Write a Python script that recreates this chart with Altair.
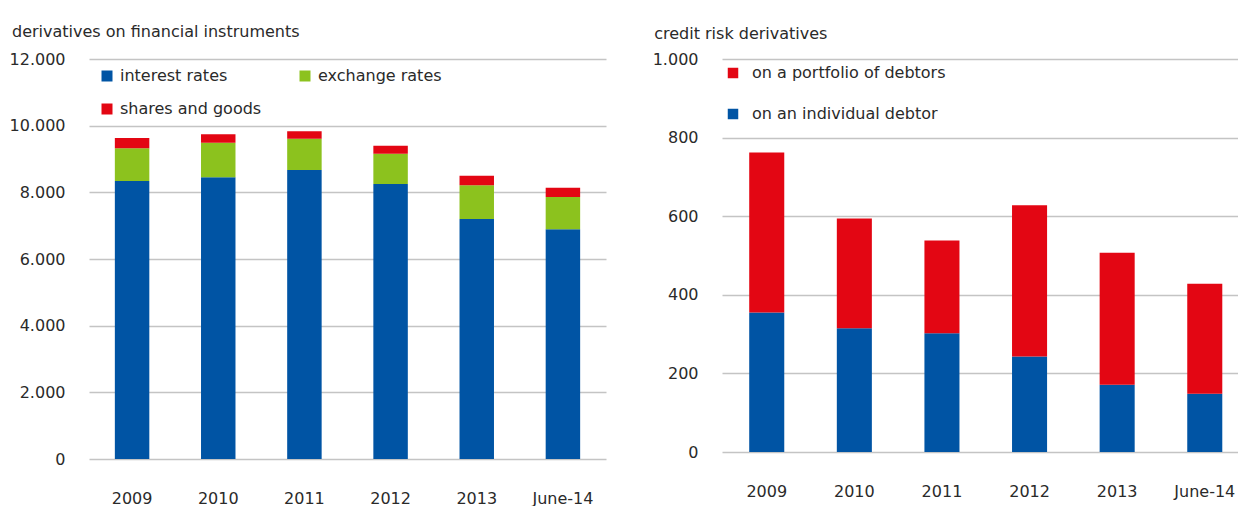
import altair as alt
import pandas as pd

# ---- data ----
years = ["2009", "2010", "2011", "2012", "2013", "June-14"]

left_series = ["interest rates", "exchange rates", "shares and goods"]
left_colors = ["#0054A4", "#8CC21E", "#E30613"]
interest_rates = [8340, 8450, 8670, 8250, 7200, 6890]
exchange_rates = [980, 1040, 940, 910, 1010, 970]
shares_goods = [310, 250, 220, 240, 290, 280]

right_series = ["on a portfolio of debtors", "on an individual debtor"]
right_colors = ["#E30613", "#0054A4"]
individual_debtor = [355, 315, 302, 243, 171, 148]
portfolio_debtors = [407, 279, 236, 385, 336, 280]

left_ticks = [0, 2000, 4000, 6000, 8000, 10000, 12000]
right_ticks = [0, 200, 400, 600, 800, 1000]

# ---- tables ----
rows = []
for i, y in enumerate(years):
    rows.append({"year": y, "series": "interest rates", "value": interest_rates[i], "ord": 0})
    rows.append({"year": y, "series": "exchange rates", "value": exchange_rates[i], "ord": 1})
    rows.append({"year": y, "series": "shares and goods", "value": shares_goods[i], "ord": 2})
df_left = pd.DataFrame(rows)

rows = []
for i, y in enumerate(years):
    rows.append({"year": y, "series": "on an individual debtor", "value": individual_debtor[i], "ord": 0})
    rows.append({"year": y, "series": "on a portfolio of debtors", "value": portfolio_debtors[i], "ord": 1})
df_right = pd.DataFrame(rows)

label_expr = "replace(format(datum.value, ','), ',', '.')"
FONT = "DejaVu Sans"
TXT = "#2a2a2a"

def x_axis():
    return alt.Axis(title=None, labelAngle=0, ticks=False, domain=False,
                    labelPadding=31, labelFontSize=16, labelColor=TXT, grid=False)

def y_axis(vals):
    return alt.Axis(title=None, values=vals, ticks=False, domain=False, grid=True,
                    gridColor="#c4c4c4", gridWidth=1.6, labelPadding=24,
                    labelFontSize=16, labelColor=TXT, labelExpr=label_expr)

left = alt.Chart(df_left).mark_bar().encode(
    x=alt.X("year:N", sort=years,
            scale=alt.Scale(paddingInner=0.6, paddingOuter=0.3), axis=x_axis()),
    y=alt.Y("value:Q", stack="zero",
            scale=alt.Scale(domain=[0, 12000], nice=False), axis=y_axis(left_ticks)),
    color=alt.Color("series:N",
                    scale=alt.Scale(domain=left_series, range=left_colors),
                    legend=alt.Legend(title=None, orient="none", legendX=10, legendY=9,
                                      direction="horizontal",
                                      columns=2, columnPadding=35, rowPadding=17,
                                      symbolType="square", symbolSize=121,
                                      symbolStrokeWidth=0, labelFontSize=16,
                                      labelLimit=400,
                                      labelOffset=5, labelColor=TXT)),
    order=alt.Order("ord:Q", sort="ascending"),
).properties(
    width=517, height=400,
    title=alt.TitleParams("derivatives on financial instruments", anchor="start",
                          dx=3, offset=11, fontSize=16, fontWeight="normal", color=TXT),
)

right = alt.Chart(df_right).mark_bar().encode(
    x=alt.X("year:N", sort=years,
            scale=alt.Scale(paddingInner=0.6, paddingOuter=0.245, align=0.634), axis=x_axis()),
    y=alt.Y("value:Q", stack="zero",
            scale=alt.Scale(domain=[0, 1000], nice=False), axis=y_axis(right_ticks)),
    color=alt.Color("series:N",
                    scale=alt.Scale(domain=right_series, range=right_colors),
                    legend=alt.Legend(title=None, orient="none", legendX=3, legendY=6,
                                      direction="vertical", rowPadding=25,
                                      symbolType="square", symbolSize=110,
                                      symbolStrokeWidth=0, labelFontSize=16,
                                      labelLimit=400,
                                      labelOffset=11, labelColor=TXT)),
    order=alt.Order("ord:Q", sort="ascending"),
).properties(
    width=516, height=393,
    title=alt.TitleParams("credit risk derivatives", anchor="start",
                          dx=2, offset=9, fontSize=16, fontWeight="normal", color=TXT),
)

chart = alt.hconcat(left, right, spacing=46).resolve_scale(
    color="independent", x="independent", y="independent"
).resolve_legend(color="independent").configure(
    font=FONT,
    padding={"left": 9, "top": 24, "right": 0, "bottom": 0},
    background="white",
).configure_view(stroke=None)

chart.save("out.html", embed_options={"renderer": "svg", "actions": False})
